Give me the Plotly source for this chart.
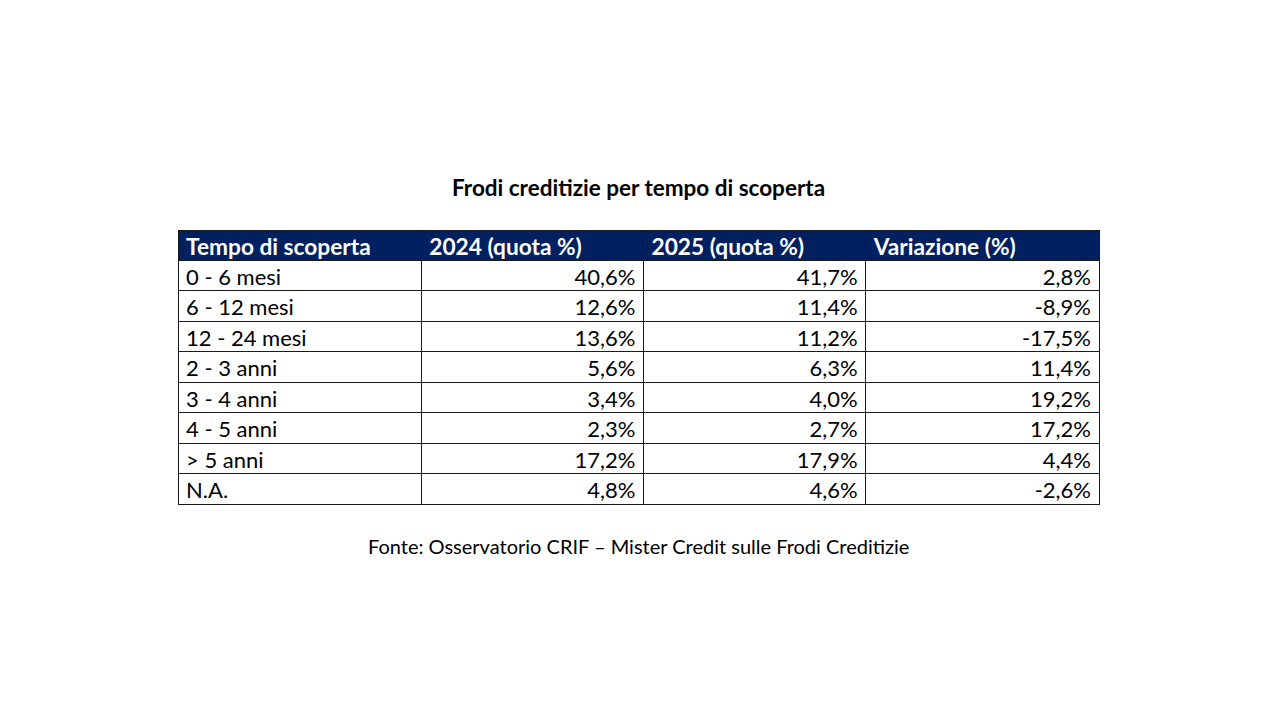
import plotly.graph_objects as go

# dati della tabella
tempo = ["0 - 6 mesi", "6 - 12 mesi", "12 - 24 mesi", "2 - 3 anni",
         "3 - 4 anni", "4 - 5 anni", "> 5 anni", "N.A."]
quota_2024 = [40.6, 12.6, 13.6, 5.6, 3.4, 2.3, 17.2, 4.8]
quota_2025 = [41.7, 11.4, 11.2, 6.3, 4.0, 2.7, 17.9, 4.6]
variazione = [2.8, -8.9, -17.5, 11.4, 19.2, 17.2, 4.4, -2.6]
intestazioni = ["Tempo di scoperta", "2024 (quota %)", "2025 (quota %)", "Variazione (%)"]


def pct(v):
    return f"{v:.1f}%".replace(".", ",")


# un ">" nel valore fa ingrandire la riga in plotly.js: lo passo come prefisso della cella,
# con spazi non separabili cosi' la cella non viene riscritta dal wrapping
NBSP = "\u00a0"
prefissi = [t[:2].replace(" ", NBSP) if t.startswith(">") else "" for t in tempo]
etichette = [(t[2:] if t.startswith(">") else t) for t in tempo]
etichette = [e.replace(" ", NBSP) if p else e for e, p in zip(etichette, prefissi)]

W, H = 1280, 720
OFF = 8  # margine del body della pagina
FONT = "Lato, 'Open Sans', sans-serif"

fig = go.Figure()
fig.add_trace(go.Table(
    domain=dict(x=[(178 - OFF) / W, (1099 - OFF) / W], y=[0.0, 1 - (230 - OFF) / H]),
    columnwidth=[243, 222, 222, 233],
    header=dict(
        values=intestazioni,
        fill_color="#002060",
        line=dict(color="#1a1a1a", width=1),
        font=dict(family=FONT, size=22.7, color="white", weight="bold"),
        align="left",
        height=30,
    ),
    cells=dict(
        values=[etichette,
                [pct(v) for v in quota_2024],
                [pct(v) for v in quota_2025],
                [pct(v) for v in variazione]],
        fill_color="white",
        line=dict(color="#1a1a1a", width=1),
        font=dict(family=FONT, size=22, color="black"),
        align=["left", "right", "right", "right"],
        height=30.5,
    ),
))
# plotly.py non accetta prefissi 2D (cella per cella), plotly.js sì
fig._data[0]["cells"]["prefix"] = [prefissi, "", "", ""]

fig.add_annotation(text="<b>Frodi creditizie per tempo di scoperta</b>",
                   x=(638 - OFF) / W, y=1 - (187 - OFF) / H, xref="paper", yref="paper",
                   xanchor="center", yanchor="middle",
                   showarrow=False, font=dict(family=FONT, size=22.5, color="black"))
fig.add_annotation(text="Fonte: Osservatorio CRIF \u2013 Mister Credit sulle Frodi Creditizie",
                   x=(638 - OFF) / W, y=1 - (546 - OFF) / H, xref="paper", yref="paper",
                   xanchor="center", yanchor="middle",
                   showarrow=False, font=dict(family=FONT, size=20, color="black"))

fig.update_layout(width=W, height=H, margin=dict(l=0, r=0, t=0, b=0),
                  paper_bgcolor="white", plot_bgcolor="white")
fig.write_html("out.html")
